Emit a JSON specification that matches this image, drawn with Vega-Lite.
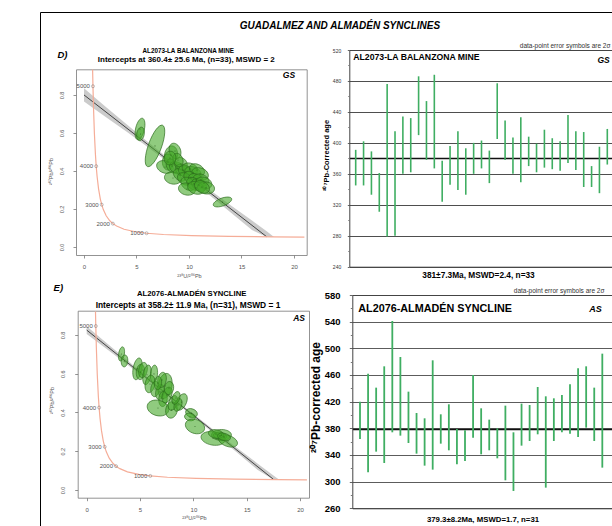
{
 "$schema": "https://vega.github.io/schema/vega-lite/v6.json",
 "width": 600, "height": 530,
 "autosize": {"type": "none"},
 "padding": {"left": 40, "top": 12, "right": 0, "bottom": 0},
 "background": "white",
 "view": {"stroke": "black", "strokeWidth": 1},
 "title": {"text": "GUADALMEZ AND ALMADÉN SYNCLINES", "anchor": "middle", "frame": "group", "offset": -18.8, "fontSize": 10, "fontWeight": "bold", "fontStyle": "italic", "color": "black"},
 "config": {"font": "Liberation Sans"},
 "datasets": {
  "concD": [{"x":0.8199,"y":0.9336},{"x":0.8245,"y":0.9204},{"x":0.8533,"y":0.8458},{"x":0.9045,"y":0.735},{"x":0.9902,"y":0.597},{"x":1.0888,"y":0.4865},{"x":1.163,"y":0.4252},{"x":1.2453,"y":0.3723},{"x":1.3869,"y":0.306},{"x":1.5557,"y":0.2525},{"x":1.6874,"y":0.2228},{"x":1.8384,"y":0.1969},{"x":2.1109,"y":0.1643},{"x":2.4586,"y":0.1379},{"x":2.749,"y":0.123},{"x":3.1046,"y":0.1101},{"x":3.8169,"y":0.0936},{"x":4.8876,"y":0.0802},{"x":5.959,"y":0.0725},{"x":7.568,"y":0.0658},{"x":10.252,"y":0.0599},{"x":13.831,"y":0.056},{"x":17.921,"y":0.0535},{"x":20.99,"y":0.0524}],
  "concE": [{"x":0.8245,"y":0.9204},{"x":0.8533,"y":0.8458},{"x":0.9045,"y":0.735},{"x":0.9902,"y":0.597},{"x":1.0888,"y":0.4865},{"x":1.163,"y":0.4252},{"x":1.2453,"y":0.3723},{"x":1.3869,"y":0.306},{"x":1.5557,"y":0.2525},{"x":1.6874,"y":0.2228},{"x":1.8384,"y":0.1969},{"x":2.1109,"y":0.1643},{"x":2.4586,"y":0.1379},{"x":2.749,"y":0.123},{"x":3.1046,"y":0.1101},{"x":3.8169,"y":0.0936},{"x":4.8876,"y":0.0802},{"x":5.959,"y":0.0725},{"x":7.568,"y":0.0658},{"x":10.252,"y":0.0599},{"x":13.831,"y":0.056},{"x":17.921,"y":0.0535},{"x":20.64,"y":0.0525}],
  "ages": [{"x":0.8533,"y":0.8458,"age":"5000"},{"x":1.163,"y":0.4252,"age":"4000"},{"x":1.6874,"y":0.2228,"age":"3000"},{"x":2.749,"y":0.123,"age":"2000"},{"x":5.959,"y":0.0725,"age":"1000"}],
  "bandD": [{"x":0,"y":0.765,"y2":0.835},{"x":2,"y":0.687,"y2":0.741},{"x":4,"y":0.6085,"y2":0.6485},{"x":6,"y":0.5288,"y2":0.5568},{"x":8,"y":0.446,"y2":0.468},{"x":10,"y":0.3603,"y2":0.3823},{"x":12,"y":0.2716,"y2":0.2996},{"x":14,"y":0.1808,"y2":0.2188},{"x":16,"y":0.0891,"y2":0.1391},{"x":17.4,"y":0.053,"y2":0.0831},{"x":18.1,"y":0.0527,"y2":0.0527}],
  "lineD": [{"x":0,"y":0.8,"x2":17.4,"y2":0.054}],
  "bandE": [{"x":0,"y":0.805,"y2":0.845},{"x":2,"y":0.722,"y2":0.752},{"x":4,"y":0.638,"y2":0.66},{"x":6,"y":0.553,"y2":0.569},{"x":8,"y":0.466,"y2":0.48},{"x":10,"y":0.378,"y2":0.392},{"x":12,"y":0.288,"y2":0.306},{"x":14,"y":0.197,"y2":0.221},{"x":16,"y":0.105,"y2":0.137},{"x":17.5,"y":0.0535,"y2":0.075},{"x":18.05,"y":0.0532,"y2":0.0532}],
  "lineE": [{"x":0,"y":0.825,"x2":17.5,"y2":0.055}],
  "annD": [{"x":20.1,"y":0.905,"label":"GS"}],
  "annE": [{"x":20.46,"y":0.886,"label":"AS"}],
  "tagD": [{"x":-2.05,"y":1.011,"label":"D)"}],
  "tagE": [{"x":-2.66,"y":1.043,"label":"E)"}],
  "headD": [{"x":9.933,"y":1.0316,"label":"AL2073-LA BALANZONA MINE"}],
  "headE": [{"x":9.841,"y":1.0116,"label":"AL2076-ALMADÉN SYNCLINE"}],
  "ellD": [
   {"x":5.333,"y":0.621,"major":2.095,"ratio":"b","angle":103},
   {"x":5.381,"y":0.595,"major":1.3,"ratio":"c","angle":100},
   {"x":6.762,"y":0.532,"major":4.19,"ratio":"a","angle":110},
   {"x":13.19,"y":0.237,"major":1.85,"ratio":"b","angle":340},
   {"x":8.286,"y":0.484,"major":1.75,"ratio":"d","angle":100},
   {"x":8.667,"y":0.505,"major":1.53,"ratio":"d","angle":70},
   {"x":8.0,"y":0.447,"major":1.53,"ratio":"d","angle":90},
   {"x":7.714,"y":0.421,"major":1.64,"ratio":"d","angle":20},
   {"x":8.381,"y":0.426,"major":1.42,"ratio":"d","angle":60},
   {"x":8.857,"y":0.416,"major":1.53,"ratio":"d","angle":30},
   {"x":9.238,"y":0.437,"major":1.31,"ratio":"e","angle":50},
   {"x":9.429,"y":0.405,"major":1.53,"ratio":"d","angle":20},
   {"x":8.476,"y":0.363,"major":1.64,"ratio":"d","angle":10},
   {"x":9.143,"y":0.379,"major":1.42,"ratio":"d","angle":40},
   {"x":9.714,"y":0.395,"major":1.53,"ratio":"d","angle":30},
   {"x":10.095,"y":0.411,"major":1.53,"ratio":"d","angle":20},
   {"x":10.381,"y":0.389,"major":1.64,"ratio":"d","angle":25},
   {"x":10.762,"y":0.405,"major":1.53,"ratio":"d","angle":30},
   {"x":11.048,"y":0.384,"major":1.64,"ratio":"d","angle":20},
   {"x":9.619,"y":0.358,"major":1.53,"ratio":"d","angle":30},
   {"x":10.19,"y":0.363,"major":1.53,"ratio":"d","angle":40},
   {"x":10.667,"y":0.353,"major":1.53,"ratio":"d","angle":30},
   {"x":11.143,"y":0.353,"major":1.53,"ratio":"d","angle":20},
   {"x":9.905,"y":0.332,"major":1.53,"ratio":"d","angle":40},
   {"x":10.476,"y":0.332,"major":1.53,"ratio":"d","angle":35},
   {"x":10.952,"y":0.326,"major":1.53,"ratio":"d","angle":30},
   {"x":11.429,"y":0.337,"major":1.53,"ratio":"d","angle":20},
   {"x":9.81,"y":0.305,"major":1.64,"ratio":"d","angle":10},
   {"x":10.667,"y":0.311,"major":1.64,"ratio":"d","angle":20},
   {"x":11.619,"y":0.311,"major":1.64,"ratio":"d","angle":10},
   {"x":11.238,"y":0.316,"major":1.53,"ratio":"d","angle":30},
   {"x":8.952,"y":0.458,"major":1.31,"ratio":"d","angle":70},
   {"x":8.19,"y":0.468,"major":1.31,"ratio":"e","angle":100}
  ],
  "ellE": [
   {"x":3.261,"y":0.702,"major":1.34,"ratio":"b","angle":100},
   {"x":3.543,"y":0.666,"major":1.13,"ratio":"c","angle":95},
   {"x":4.761,"y":0.625,"major":2.06,"ratio":"b","angle":100},
   {"x":5.042,"y":0.609,"major":1.44,"ratio":"c","angle":95},
   {"x":5.277,"y":0.619,"major":1.44,"ratio":"c","angle":100},
   {"x":5.651,"y":0.594,"major":1.86,"ratio":"b","angle":100},
   {"x":6.307,"y":0.599,"major":1.65,"ratio":"b","angle":95},
   {"x":5.933,"y":0.547,"major":1.65,"ratio":"c","angle":100},
   {"x":6.401,"y":0.521,"major":1.44,"ratio":"c","angle":95},
   {"x":7.338,"y":0.537,"major":2.37,"ratio":"c","angle":100},
   {"x":6.87,"y":0.506,"major":1.44,"ratio":"c","angle":100},
   {"x":7.151,"y":0.47,"major":1.44,"ratio":"c","angle":95},
   {"x":7.526,"y":0.49,"major":1.55,"ratio":"c","angle":110},
   {"x":6.682,"y":0.423,"major":2.06,"ratio":"d","angle":15},
   {"x":7.948,"y":0.413,"major":1.55,"ratio":"d","angle":100},
   {"x":8.088,"y":0.449,"major":1.44,"ratio":"c","angle":110},
   {"x":8.885,"y":0.454,"major":1.65,"ratio":"c","angle":115},
   {"x":8.557,"y":0.439,"major":1.24,"ratio":"c","angle":110},
   {"x":9.822,"y":0.397,"major":1.13,"ratio":"d","angle":20},
   {"x":9.681,"y":0.377,"major":1.03,"ratio":"d","angle":10},
   {"x":10.15,"y":0.328,"major":1.86,"ratio":"d","angle":20},
   {"x":11.837,"y":0.266,"major":2.27,"ratio":"c","angle":10},
   {"x":12.634,"y":0.284,"major":1.86,"ratio":"c","angle":0},
   {"x":12.493,"y":0.279,"major":1.24,"ratio":"c","angle":10},
   {"x":13.243,"y":0.253,"major":1.86,"ratio":"c","angle":20},
   {"x":12.118,"y":0.289,"major":1.44,"ratio":"c","angle":10},
   {"x":7.057,"y":0.568,"major":1.44,"ratio":"c","angle":100},
   {"x":7.713,"y":0.526,"major":1.24,"ratio":"d","angle":100},
   {"x":6.682,"y":0.552,"major":1.24,"ratio":"c","angle":95},
   {"x":8.369,"y":0.475,"major":1.24,"ratio":"c","angle":110},
   {"x":12.869,"y":0.274,"major":1.24,"ratio":"c","angle":15}
  ],
  "barsR1": [{"x":1,"y":345,"y2":391},{"x":2,"y":345,"y2":402},{"x":3,"y":333,"y2":389},{"x":4,"y":311,"y2":361},{"x":5,"y":279,"y2":476},{"x":6,"y":280,"y2":415},{"x":7,"y":360,"y2":434},{"x":8,"y":362,"y2":432},{"x":9,"y":410,"y2":486},{"x":10,"y":378,"y2":454},{"x":11,"y":367,"y2":488},{"x":12,"y":324,"y2":377},{"x":13,"y":346,"y2":396},{"x":14,"y":339,"y2":415},{"x":15,"y":333,"y2":393},{"x":16,"y":360,"y2":400},{"x":17,"y":367,"y2":403},{"x":18,"y":348,"y2":390},{"x":19,"y":405,"y2":477},{"x":20,"y":378,"y2":429},{"x":21,"y":360,"y2":407},{"x":22,"y":349,"y2":433},{"x":23,"y":370,"y2":408},{"x":24,"y":362,"y2":399},{"x":25,"y":368,"y2":417},{"x":26,"y":366,"y2":406},{"x":27,"y":364,"y2":402},{"x":28,"y":374,"y2":436},{"x":29,"y":365,"y2":415},{"x":30,"y":343,"y2":414},{"x":31,"y":343,"y2":370},{"x":32,"y":335,"y2":395},{"x":33,"y":372,"y2":418}],
  "labR1": [{"x":0.69,"y":511,"label":"AL2073-LA BALANZONA MINE"}],
  "tagR1": [{"x":33.3,"y":507,"label":"GS"}],
  "barsR2": [{"x":1,"y":364,"y2":420},{"x":2,"y":314,"y2":462},{"x":3,"y":345,"y2":441},{"x":4,"y":328,"y2":473},{"x":5,"y":374,"y2":541},{"x":6,"y":369,"y2":487},{"x":7,"y":358,"y2":435},{"x":8,"y":342,"y2":403},{"x":9,"y":324,"y2":395},{"x":10,"y":318,"y2":482},{"x":11,"y":357,"y2":401},{"x":12,"y":347,"y2":416},{"x":13,"y":326,"y2":379},{"x":14,"y":331,"y2":377},{"x":15,"y":366,"y2":460},{"x":16,"y":341,"y2":410},{"x":17,"y":347,"y2":393},{"x":18,"y":335,"y2":380},{"x":19,"y":302,"y2":414},{"x":20,"y":286,"y2":374},{"x":21,"y":354,"y2":417},{"x":22,"y":361,"y2":415},{"x":23,"y":371,"y2":442},{"x":24,"y":291,"y2":428},{"x":25,"y":361,"y2":425},{"x":26,"y":374,"y2":430},{"x":27,"y":372,"y2":446},{"x":28,"y":367,"y2":470},{"x":29,"y":381,"y2":473},{"x":30,"y":361,"y2":441},{"x":31,"y":321,"y2":492}],
  "labR2": [{"x":0.79,"y":559,"label":"AL2076-ALMADÉN SYNCLINE"}],
  "tagR2": [{"x":30.92,"y":559,"label":"AS"}]
 },
 "resolve": {"scale": {"x": "independent", "y": "independent", "size": "independent"}},
 "layer": [
  {
   "resolve": {"axis": {"x": "independent", "y": "independent"}},
   "layer": [
    {"data": {"name": "bandD"}, "mark": {"type": "area", "color": "#8c8c8c", "opacity": 0.45},
     "encoding": {
      "x": {"field": "x", "type": "quantitative", "scale": {"domain": [-0.762, 21.21], "range": [36, 266.7], "nice": false, "zero": false},
            "axis": {"orient": "bottom", "offset": -287, "values": [0,5,10,15,20], "title": "²³⁸U/²⁰⁶Pb", "grid": false, "domain": true, "domainColor": "#777", "domainWidth": 0.8, "tickSize": 3, "tickColor": "#777", "tickWidth": 0.8, "labelFontSize": 6, "labelColor": "#555", "labelPadding": 5, "labelFlush": false, "titleFontSize": 5.5, "titleFontWeight": "normal", "titleColor": "#555", "titlePadding": 4, "titleX": 149}},
      "y": {"field": "y", "type": "quantitative", "scale": {"domain": [-0.042, 0.935], "range": [243, 57.3], "nice": false, "zero": false},
            "axis": {"orient": "left", "offset": -36, "values": [0,0.2,0.4,0.6,0.8], "format": ".1f", "title": "²⁰⁷Pb/²⁰⁶Pb", "grid": false, "domain": true, "domainColor": "#777", "domainWidth": 0.8, "tickSize": 3, "tickColor": "#777", "tickWidth": 0.8, "labelAngle": -90, "labelAlign": "center", "labelBaseline": "bottom", "labelFontSize": 5.5, "labelColor": "#555", "labelPadding": 9, "labelFlush": false, "titleFontSize": 5.5, "titleFontWeight": "normal", "titleColor": "#555", "titlePadding": 6, "titleY": 159}},
      "y2": {"field": "y2"}
     }},
    {"data": {"name": "lineD"}, "mark": {"type": "rule", "color": "#444", "strokeWidth": 1},
     "encoding": {
      "x": {"field": "x", "type": "quantitative", "scale": {"domain": [-0.762, 21.21], "range": [36, 266.7], "nice": false, "zero": false},
            "axis": {"orient": "top", "offset": -57.3, "labels": false, "ticks": false, "grid": false, "domain": true, "domainColor": "#777", "domainWidth": 0.8, "title": "Intercepts at  360.4± 25.6 Ma, (n=33), MSWD = 2", "titleFontSize": 8, "titleFontWeight": "bold", "titleColor": "black", "titlePadding": 5.7, "titleX": 145.8}},
      "y": {"field": "y", "type": "quantitative", "scale": {"domain": [-0.042, 0.935], "range": [243, 57.3], "nice": false, "zero": false},
            "axis": {"orient": "right", "offset": -333.3, "labels": false, "ticks": false, "grid": false, "domain": true, "domainColor": "#777", "domainWidth": 0.8, "title": null}},
      "x2": {"field": "x2"}, "y2": {"field": "y2"}
     }},
    {"data": {"name": "concD"}, "mark": {"type": "line", "color": "#f5ad98", "strokeWidth": 1.2},
     "encoding": {
      "x": {"field": "x", "type": "quantitative", "scale": {"domain": [-0.762, 21.21], "range": [36, 266.7], "nice": false, "zero": false}, "axis": null},
      "y": {"field": "y", "type": "quantitative", "scale": {"domain": [-0.042, 0.935], "range": [243, 57.3], "nice": false, "zero": false}, "axis": null}
     }},
    {"data": {"name": "ages"}, "mark": {"type": "point", "shape": "circle", "filled": false, "size": 9, "stroke": "#666", "strokeWidth": 0.6},
     "encoding": {
      "x": {"field": "x", "type": "quantitative", "scale": {"domain": [-0.762, 21.21], "range": [36, 266.7], "nice": false, "zero": false}, "axis": null},
      "y": {"field": "y", "type": "quantitative", "scale": {"domain": [-0.042, 0.935], "range": [243, 57.3], "nice": false, "zero": false}, "axis": null}
     }},
    {"data": {"name": "ages"}, "mark": {"type": "text", "align": "right", "baseline": "middle", "dx": -3, "fontSize": 6, "color": "#555"},
     "encoding": {
      "x": {"field": "x", "type": "quantitative", "scale": {"domain": [-0.762, 21.21], "range": [36, 266.7], "nice": false, "zero": false}, "axis": null},
      "y": {"field": "y", "type": "quantitative", "scale": {"domain": [-0.042, 0.935], "range": [243, 57.3], "nice": false, "zero": false}, "axis": null},
      "text": {"field": "age"}
     }},
    {"data": {"name": "ellD"}, "mark": {"type": "point", "filled": true, "fill": "#46a82a", "fillOpacity": 0.6, "stroke": "#2d6b1e", "strokeWidth": 0.7, "strokeOpacity": 0.9},
     "encoding": {
      "x": {"field": "x", "type": "quantitative", "scale": {"domain": [-0.762, 21.21], "range": [36, 266.7], "nice": false, "zero": false}, "axis": null},
      "y": {"field": "y", "type": "quantitative", "scale": {"domain": [-0.042, 0.935], "range": [243, 57.3], "nice": false, "zero": false}, "axis": null},
      "size": {"field": "major", "type": "quantitative", "scale": {"type": "pow", "exponent": 2, "domain": [0, 5], "range": [0, 2756.25]}, "legend": null},
      "shape": {"field": "ratio", "type": "nominal", "scale": {"domain": ["a","b","c","d","e"], "range": [
        "M1,0C1,0.1657 0.5523,0.3 0,0.3C-0.5523,0.3 -1,0.1657 -1,0C-1,-0.1657 -0.5523,-0.3 0,-0.3C0.5523,-0.3 1,-0.1657 1,0Z",
        "M1,0C1,0.2209 0.5523,0.4 0,0.4C-0.5523,0.4 -1,0.2209 -1,0C-1,-0.2209 -0.5523,-0.4 0,-0.4C0.5523,-0.4 1,-0.2209 1,0Z",
        "M1,0C1,0.3038 0.5523,0.55 0,0.55C-0.5523,0.55 -1,0.3038 -1,0C-1,-0.3038 -0.5523,-0.55 0,-0.55C0.5523,-0.55 1,-0.3038 1,0Z",
        "M1,0C1,0.3866 0.5523,0.7 0,0.7C-0.5523,0.7 -1,0.3866 -1,0C-1,-0.3866 -0.5523,-0.7 0,-0.7C0.5523,-0.7 1,-0.3866 1,0Z",
        "M1,0C1,0.4695 0.5523,0.85 0,0.85C-0.5523,0.85 -1,0.4695 -1,0C-1,-0.4695 -0.5523,-0.85 0,-0.85C0.5523,-0.85 1,-0.4695 1,0Z"]}, "legend": null},
      "angle": {"field": "angle", "type": "quantitative", "scale": {"domain": [0, 360], "range": [0, 360]}, "legend": null}
     }},
    {"data": {"name": "ellD"}, "mark": {"type": "point", "shape": "circle", "filled": true, "size": 1.2, "color": "#1e4d12"},
     "encoding": {
      "x": {"field": "x", "type": "quantitative", "scale": {"domain": [-0.762, 21.21], "range": [36, 266.7], "nice": false, "zero": false}, "axis": null},
      "y": {"field": "y", "type": "quantitative", "scale": {"domain": [-0.042, 0.935], "range": [243, 57.3], "nice": false, "zero": false}, "axis": null}
     }},
    {"data": {"name": "annD"}, "mark": {"type": "text", "align": "right", "baseline": "middle", "fontSize": 8.5, "fontWeight": "bold", "fontStyle": "italic", "color": "black"},
     "encoding": {
      "x": {"field": "x", "type": "quantitative", "scale": {"domain": [-0.762, 21.21], "range": [36, 266.7], "nice": false, "zero": false}, "axis": null},
      "y": {"field": "y", "type": "quantitative", "scale": {"domain": [-0.042, 0.935], "range": [243, 57.3], "nice": false, "zero": false}, "axis": null},
      "text": {"field": "label"}
     }},
    {"data": {"name": "headD"}, "mark": {"type": "text", "align": "center", "baseline": "middle", "fontSize": 6.3, "fontWeight": "bold", "color": "black"},
     "encoding": {
      "x": {"field": "x", "type": "quantitative", "scale": {"domain": [-0.762, 21.21], "range": [36, 266.7], "nice": false, "zero": false}, "axis": null},
      "y": {"field": "y", "type": "quantitative", "scale": {"domain": [-0.042, 0.935], "range": [243, 57.3], "nice": false, "zero": false}, "axis": null},
      "text": {"field": "label"}
     }},
    {"data": {"name": "tagD"}, "mark": {"type": "text", "align": "center", "baseline": "middle", "fontSize": 9.5, "fontWeight": "bold", "fontStyle": "italic", "color": "black"},
     "encoding": {
      "x": {"field": "x", "type": "quantitative", "scale": {"domain": [-0.762, 21.21], "range": [36, 266.7], "nice": false, "zero": false}, "axis": null},
      "y": {"field": "y", "type": "quantitative", "scale": {"domain": [-0.042, 0.935], "range": [243, 57.3], "nice": false, "zero": false}, "axis": null},
      "text": {"field": "label"}
     }}
   ]
  },
  {
   "resolve": {"axis": {"x": "independent", "y": "independent"}},
   "layer": [
    {"data": {"name": "bandE"}, "mark": {"type": "area", "color": "#8c8c8c", "opacity": 0.45},
     "encoding": {
      "x": {"field": "x", "type": "quantitative", "scale": {"domain": [-0.843, 20.834], "range": [37.7, 269], "nice": false, "zero": false},
            "axis": {"orient": "bottom", "offset": -44.3, "values": [0,5,10,15,20], "title": "²³⁸U/²⁰⁶Pb", "grid": false, "domain": true, "domainColor": "#777", "domainWidth": 0.8, "tickSize": 3, "tickColor": "#777", "tickWidth": 0.8, "labelFontSize": 6, "labelColor": "#555", "labelPadding": 5.5, "labelFlush": false, "titleFontSize": 5.5, "titleFontWeight": "normal", "titleColor": "#555", "titlePadding": 3, "titleX": 154}},
      "y": {"field": "y", "type": "quantitative", "scale": {"domain": [-0.0397, 0.925], "range": [485.7, 298.7], "nice": false, "zero": false},
            "axis": {"orient": "left", "offset": -37.7, "values": [0,0.2,0.4,0.6,0.8], "format": ".1f", "title": "²⁰⁷Pb/²⁰⁶Pb", "grid": false, "domain": true, "domainColor": "#777", "domainWidth": 0.8, "tickSize": 3, "tickColor": "#777", "tickWidth": 0.8, "labelAngle": -90, "labelAlign": "center", "labelBaseline": "bottom", "labelFontSize": 5.5, "labelColor": "#555", "labelPadding": 9, "labelFlush": false, "titleFontSize": 5.5, "titleFontWeight": "normal", "titleColor": "#555", "titlePadding": 6, "titleY": 388}},
      "y2": {"field": "y2"}
     }},
    {"data": {"name": "lineE"}, "mark": {"type": "rule", "color": "#444", "strokeWidth": 1},
     "encoding": {
      "x": {"field": "x", "type": "quantitative", "scale": {"domain": [-0.843, 20.834], "range": [37.7, 269], "nice": false, "zero": false},
            "axis": {"orient": "top", "offset": -298.7, "labels": false, "ticks": false, "grid": false, "domain": true, "domainColor": "#777", "domainWidth": 0.8, "title": "Intercepts at  358.2± 11.9 Ma, (n=31), MSWD = 1", "titleFontSize": 8.4, "titleFontWeight": "bold", "titleColor": "black", "titlePadding": 1.6, "titleX": 147.5}},
      "y": {"field": "y", "type": "quantitative", "scale": {"domain": [-0.0397, 0.925], "range": [485.7, 298.7], "nice": false, "zero": false},
            "axis": {"orient": "right", "offset": -331, "labels": false, "ticks": false, "grid": false, "domain": true, "domainColor": "#777", "domainWidth": 0.8, "title": null}},
      "x2": {"field": "x2"}, "y2": {"field": "y2"}
     }},
    {"data": {"name": "concE"}, "mark": {"type": "line", "color": "#f5ad98", "strokeWidth": 1.2},
     "encoding": {
      "x": {"field": "x", "type": "quantitative", "scale": {"domain": [-0.843, 20.834], "range": [37.7, 269], "nice": false, "zero": false}, "axis": null},
      "y": {"field": "y", "type": "quantitative", "scale": {"domain": [-0.0397, 0.925], "range": [485.7, 298.7], "nice": false, "zero": false}, "axis": null}
     }},
    {"data": {"name": "ages"}, "mark": {"type": "point", "shape": "circle", "filled": false, "size": 9, "stroke": "#666", "strokeWidth": 0.6},
     "encoding": {
      "x": {"field": "x", "type": "quantitative", "scale": {"domain": [-0.843, 20.834], "range": [37.7, 269], "nice": false, "zero": false}, "axis": null},
      "y": {"field": "y", "type": "quantitative", "scale": {"domain": [-0.0397, 0.925], "range": [485.7, 298.7], "nice": false, "zero": false}, "axis": null}
     }},
    {"data": {"name": "ages"}, "mark": {"type": "text", "align": "right", "baseline": "middle", "dx": -3, "fontSize": 6, "color": "#555"},
     "encoding": {
      "x": {"field": "x", "type": "quantitative", "scale": {"domain": [-0.843, 20.834], "range": [37.7, 269], "nice": false, "zero": false}, "axis": null},
      "y": {"field": "y", "type": "quantitative", "scale": {"domain": [-0.0397, 0.925], "range": [485.7, 298.7], "nice": false, "zero": false}, "axis": null},
      "text": {"field": "age"}
     }},
    {"data": {"name": "ellE"}, "mark": {"type": "point", "filled": true, "fill": "#46a82a", "fillOpacity": 0.6, "stroke": "#2d6b1e", "strokeWidth": 0.7, "strokeOpacity": 0.9},
     "encoding": {
      "x": {"field": "x", "type": "quantitative", "scale": {"domain": [-0.843, 20.834], "range": [37.7, 269], "nice": false, "zero": false}, "axis": null},
      "y": {"field": "y", "type": "quantitative", "scale": {"domain": [-0.0397, 0.925], "range": [485.7, 298.7], "nice": false, "zero": false}, "axis": null},
      "size": {"field": "major", "type": "quantitative", "scale": {"type": "pow", "exponent": 2, "domain": [0, 5], "range": [0, 2846.2]}, "legend": null},
      "shape": {"field": "ratio", "type": "nominal", "scale": {"domain": ["a","b","c","d","e"], "range": [
        "M1,0C1,0.1657 0.5523,0.3 0,0.3C-0.5523,0.3 -1,0.1657 -1,0C-1,-0.1657 -0.5523,-0.3 0,-0.3C0.5523,-0.3 1,-0.1657 1,0Z",
        "M1,0C1,0.2209 0.5523,0.4 0,0.4C-0.5523,0.4 -1,0.2209 -1,0C-1,-0.2209 -0.5523,-0.4 0,-0.4C0.5523,-0.4 1,-0.2209 1,0Z",
        "M1,0C1,0.3038 0.5523,0.55 0,0.55C-0.5523,0.55 -1,0.3038 -1,0C-1,-0.3038 -0.5523,-0.55 0,-0.55C0.5523,-0.55 1,-0.3038 1,0Z",
        "M1,0C1,0.3866 0.5523,0.7 0,0.7C-0.5523,0.7 -1,0.3866 -1,0C-1,-0.3866 -0.5523,-0.7 0,-0.7C0.5523,-0.7 1,-0.3866 1,0Z",
        "M1,0C1,0.4695 0.5523,0.85 0,0.85C-0.5523,0.85 -1,0.4695 -1,0C-1,-0.4695 -0.5523,-0.85 0,-0.85C0.5523,-0.85 1,-0.4695 1,0Z"]}, "legend": null},
      "angle": {"field": "angle", "type": "quantitative", "scale": {"domain": [0, 360], "range": [0, 360]}, "legend": null}
     }},
    {"data": {"name": "ellE"}, "mark": {"type": "point", "shape": "circle", "filled": true, "size": 1.2, "color": "#1e4d12"},
     "encoding": {
      "x": {"field": "x", "type": "quantitative", "scale": {"domain": [-0.843, 20.834], "range": [37.7, 269], "nice": false, "zero": false}, "axis": null},
      "y": {"field": "y", "type": "quantitative", "scale": {"domain": [-0.0397, 0.925], "range": [485.7, 298.7], "nice": false, "zero": false}, "axis": null}
     }},
    {"data": {"name": "annE"}, "mark": {"type": "text", "align": "right", "baseline": "middle", "fontSize": 8.5, "fontWeight": "bold", "fontStyle": "italic", "color": "black"},
     "encoding": {
      "x": {"field": "x", "type": "quantitative", "scale": {"domain": [-0.843, 20.834], "range": [37.7, 269], "nice": false, "zero": false}, "axis": null},
      "y": {"field": "y", "type": "quantitative", "scale": {"domain": [-0.0397, 0.925], "range": [485.7, 298.7], "nice": false, "zero": false}, "axis": null},
      "text": {"field": "label"}
     }},
    {"data": {"name": "headE"}, "mark": {"type": "text", "align": "center", "baseline": "middle", "fontSize": 7.7, "fontWeight": "bold", "color": "black"},
     "encoding": {
      "x": {"field": "x", "type": "quantitative", "scale": {"domain": [-0.843, 20.834], "range": [37.7, 269], "nice": false, "zero": false}, "axis": null},
      "y": {"field": "y", "type": "quantitative", "scale": {"domain": [-0.0397, 0.925], "range": [485.7, 298.7], "nice": false, "zero": false}, "axis": null},
      "text": {"field": "label"}
     }},
    {"data": {"name": "tagE"}, "mark": {"type": "text", "align": "center", "baseline": "middle", "fontSize": 9.5, "fontWeight": "bold", "fontStyle": "italic", "color": "black"},
     "encoding": {
      "x": {"field": "x", "type": "quantitative", "scale": {"domain": [-0.843, 20.834], "range": [37.7, 269], "nice": false, "zero": false}, "axis": null},
      "y": {"field": "y", "type": "quantitative", "scale": {"domain": [-0.0397, 0.925], "range": [485.7, 298.7], "nice": false, "zero": false}, "axis": null},
      "text": {"field": "label"}
     }}
   ]
  },
  {
   "resolve": {"axis": {"x": "independent", "y": "independent"}},
   "layer": [
    {"data": {"name": "barsR1"}, "mark": {"type": "rule", "color": "#3fae62", "strokeWidth": 1.6},
     "encoding": {
      "x": {"field": "x", "type": "quantitative", "scale": {"domain": [0.186, 34.717], "range": [309.3, 580.8], "nice": false, "zero": false},
            "axis": {"orient": "bottom", "offset": -275.3, "labels": false, "ticks": false, "grid": false, "domain": true, "domainColor": "#444", "domainWidth": 1, "title": "381±7.3Ma, MSWD=2.4, n=33", "titleFontSize": 8.3, "titleFontWeight": "bold", "titleColor": "black", "titlePadding": 4, "titleX": 438}},
      "y": {"field": "y", "type": "quantitative", "scale": {"domain": [240, 520], "range": [254.7, 38], "nice": false, "zero": false},
            "axis": {"orient": "left", "offset": -309.3, "values": [240,280,320,360,400,440,480,520], "title": "²⁰⁷Pb-Corrected age", "grid": true, "gridColor": "#3a3a3a", "gridWidth": 0.9, "domain": true, "domainColor": "#444", "domainWidth": 1, "tickSize": 2, "tickColor": "#666", "labelFontSize": 5, "labelColor": "#333", "labelPadding": 6.6, "titleFontSize": 7.5, "titleFontWeight": "bold", "titleColor": "black", "titlePadding": 2, "titleY": 143}},
      "y2": {"field": "y2"}
     }},
    {"data": {"name": "labR1"}, "mark": {"type": "text", "align": "left", "baseline": "middle", "fontSize": 8.7, "fontWeight": "bold", "color": "black"},
     "encoding": {
      "x": {"field": "x", "type": "quantitative", "scale": {"domain": [0.186, 34.717], "range": [309.3, 580.8], "nice": false, "zero": false},
            "axis": {"orient": "top", "offset": -38, "labels": false, "ticks": false, "grid": false, "domain": true, "domainColor": "#444", "domainWidth": 1, "title": "data-point error symbols are 2σ", "titleFontSize": 6.5, "titleFontWeight": "normal", "titleColor": "#333", "titleAlign": "right", "titleX": 570, "titlePadding": 1.5}},
      "y": {"field": "y", "type": "quantitative", "scale": {"domain": [240, 520], "range": [254.7, 38], "nice": false, "zero": false},
            "axis": {"orient": "left", "offset": -309.3, "values": [381], "title": null, "labels": false, "ticks": false, "domain": false, "grid": true, "gridColor": "#111", "gridWidth": 1.3}},
      "text": {"field": "label"}
     }},
    {"data": {"name": "tagR1"}, "mark": {"type": "text", "align": "right", "baseline": "middle", "fontSize": 8.5, "fontWeight": "bold", "fontStyle": "italic", "color": "black"},
     "encoding": {
      "x": {"field": "x", "type": "quantitative", "scale": {"domain": [0.186, 34.717], "range": [309.3, 580.8], "nice": false, "zero": false}, "axis": null},
      "y": {"field": "y", "type": "quantitative", "scale": {"domain": [240, 520], "range": [254.7, 38], "nice": false, "zero": false},
            "axis": {"orient": "left", "offset": -309.3, "values": [260,300,340,380,420,460,500], "title": null, "labels": false, "ticks": true, "tickSize": 1.5, "tickColor": "#777", "domain": false, "grid": false}},
      "text": {"field": "label"}
     }}
   ]
  },
  {
   "resolve": {"axis": {"x": "independent", "y": "independent"}},
   "layer": [
    {"data": {"name": "barsR2"}, "mark": {"type": "rule", "color": "#3fae62", "strokeWidth": 1.8},
     "encoding": {
      "x": {"field": "x", "type": "quantitative", "scale": {"domain": [0.0467, 33.289], "range": [312.3, 580.8], "nice": false, "zero": false},
            "axis": {"orient": "bottom", "offset": -33.7, "labels": false, "ticks": false, "grid": false, "domain": true, "domainColor": "#444", "domainWidth": 1, "title": "379.3±8.2Ma, MSWD=1.7, n=31", "titleFontSize": 7.8, "titleFontWeight": "bold", "titleColor": "black", "titlePadding": 7, "titleX": 442.5}},
      "y": {"field": "y", "type": "quantitative", "scale": {"domain": [260, 580], "range": [496.3, 283], "nice": false, "zero": false},
            "axis": {"orient": "left", "offset": -312.3, "values": [260,300,340,380,420,460,500,540,580], "title": "²⁰⁷Pb-corrected age", "grid": true, "gridColor": "#4a4a4a", "gridWidth": 0.9, "domain": true, "domainColor": "#444", "domainWidth": 1, "tickSize": 3, "tickColor": "#666", "labelFontSize": 9.5, "labelFontWeight": "bold", "labelColor": "black", "labelPadding": 9.3, "titleFontSize": 12, "titleFontWeight": "bold", "titleColor": "black", "titlePadding": 1.5, "titleY": 385}},
      "y2": {"field": "y2"}
     }},
    {"data": {"name": "labR2"}, "mark": {"type": "text", "align": "left", "baseline": "middle", "fontSize": 10.8, "fontWeight": "bold", "color": "black"},
     "encoding": {
      "x": {"field": "x", "type": "quantitative", "scale": {"domain": [0.0467, 33.289], "range": [312.3, 580.8], "nice": false, "zero": false},
            "axis": {"orient": "top", "offset": -283, "labels": false, "ticks": false, "grid": false, "domain": true, "domainColor": "#444", "domainWidth": 1, "title": "data-point error symbols are 2σ", "titleFontSize": 6.5, "titleFontWeight": "normal", "titleColor": "#333", "titleAlign": "right", "titleX": 564, "titlePadding": 2}},
      "y": {"field": "y", "type": "quantitative", "scale": {"domain": [260, 580], "range": [496.3, 283], "nice": false, "zero": false},
            "axis": {"orient": "left", "offset": -312.3, "values": [379.3], "title": null, "labels": false, "ticks": false, "domain": false, "grid": true, "gridColor": "#111", "gridWidth": 1.5}},
      "text": {"field": "label"}
     }},
    {"data": {"name": "tagR2"}, "mark": {"type": "text", "align": "right", "baseline": "middle", "fontSize": 9, "fontWeight": "bold", "fontStyle": "italic", "color": "black"},
     "encoding": {
      "x": {"field": "x", "type": "quantitative", "scale": {"domain": [0.0467, 33.289], "range": [312.3, 580.8], "nice": false, "zero": false}, "axis": null},
      "y": {"field": "y", "type": "quantitative", "scale": {"domain": [260, 580], "range": [496.3, 283], "nice": false, "zero": false},
            "axis": {"orient": "left", "offset": -312.3, "values": [280,320,360,400,440,480,520,560], "title": null, "labels": false, "ticks": true, "tickSize": 2, "tickColor": "#777", "domain": false, "grid": false}},
      "text": {"field": "label"}
     }}
   ]
  }
 ]
}
